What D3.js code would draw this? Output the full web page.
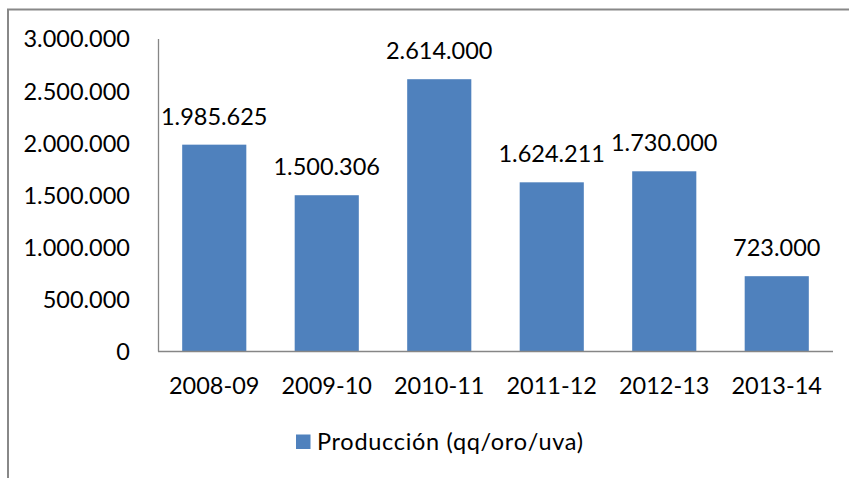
<!DOCTYPE html>
<html><head><meta charset="utf-8">
<script src="https://cdn.jsdelivr.net/npm/d3@7"></script>
<style>
html,body{margin:0;padding:0;background:#fff;}
text{font-family:"Lato","Open Sans",sans-serif;fill:#000;}
</style></head>
<body>
<script>
const categories = ["2008-09","2009-10","2010-11","2011-12","2012-13","2013-14"];
const values = [1985625,1500306,2614000,1624211,1730000,723000];
const valueLabels = ["1.985.625","1.500.306","2.614.000","1.624.211","1.730.000","723.000"];
const yTicks = [0,500000,1000000,1500000,2000000,2500000,3000000];
const yTickLabels = ["0","500.000","1.000.000","1.500.000","2.000.000","2.500.000","3.000.000"];
const seriesName = "Producción (qq/oro/uva)";

const W=849,H=478;
const svg=d3.select("body").append("svg").attr("width",W).attr("height",H);
const fs=23.5;

// outer frame (partial)
svg.append("path").attr("d","M8,478V9.5H849").attr("fill","none").attr("stroke","#888").attr("stroke-width",2);

const x=d3.scaleBand().domain(categories).range([158,833]).paddingInner(0.43).paddingOuter(0.215);
const y=d3.scaleLinear().domain([0,3000000]).range([351.5,39]);

svg.selectAll("rect.bar").data(values).join("rect").attr("class","bar")
  .attr("x",(d,i)=>x(categories[i])).attr("width",x.bandwidth())
  .attr("y",d=>y(d)).attr("height",d=>y(0)-y(d)).attr("fill","#4F81BD");

// axes
svg.append("line").attr("x1",158.5).attr("x2",158.5).attr("y1",39).attr("y2",351.5).attr("stroke","#868686").attr("stroke-width",1.3);
svg.append("line").attr("x1",158).attr("x2",833).attr("y1",351.5).attr("y2",351.5).attr("stroke","#868686").attr("stroke-width",1.3);

// y tick labels
svg.selectAll("text.yt").data(yTicks).join("text").attr("class","yt")
  .attr("x",130).attr("y",d=>y(d)).attr("dy","0.36em").attr("text-anchor","end")
  .attr("font-size",fs).text((d,i)=>yTickLabels[i]);

// x labels
svg.selectAll("text.xt").data(categories).join("text").attr("class","xt")
  .attr("x",d=>x(d)+x.bandwidth()/2).attr("y",394).attr("text-anchor","middle")
  .attr("font-size",fs).text(d=>d);

// value labels
svg.selectAll("text.vl").data(values).join("text").attr("class","vl")
  .attr("x",(d,i)=>x(categories[i])+x.bandwidth()/2).attr("y",d=>y(d)-20)
  .attr("text-anchor","middle").attr("font-size",fs).text((d,i)=>valueLabels[i]);

// legend
svg.append("rect").attr("x",296).attr("y",434.5).attr("width",14.5).attr("height",14.5).attr("fill","#4F81BD");
svg.append("text").attr("x",317).attr("y",449.5).attr("font-size",fs).attr("letter-spacing",0.7).text(seriesName);
</script>
</body></html>
